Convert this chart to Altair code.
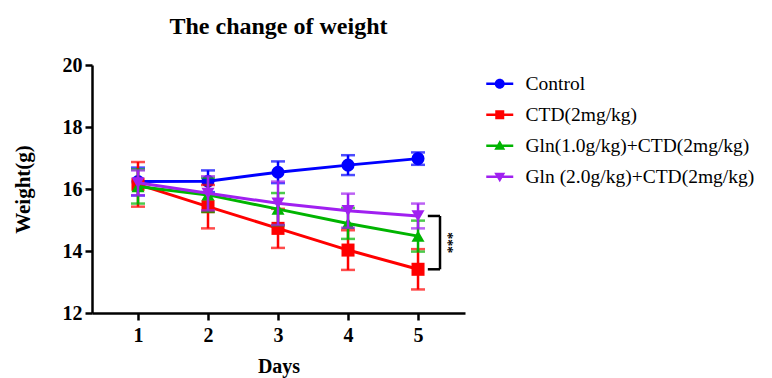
import altair as alt
import pandas as pd

days = [1, 2, 3, 4, 5]
groups = ["Control", "CTD(2mg/kg)", "Gln(1.0g/kg)+CTD(2mg/kg)", "Gln (2.0g/kg)+CTD(2mg/kg)"]
colors = ["#0000ff", "#ff0000", "#00b400", "#a020f0"]
shapes = ["circle", "square", "triangle-up", "triangle-down"]

control_mean = [16.24, 16.25, 16.54, 16.77, 16.98]
control_err = [0.45, 0.35, 0.35, 0.32, 0.2]
ctd_mean = [16.15, 15.43, 14.73, 14.03, 13.41]
ctd_err = [0.72, 0.7, 0.63, 0.64, 0.65]
gln1_mean = [16.08, 15.81, 15.35, 14.89, 14.48]
gln1_err = [0.55, 0.55, 0.52, 0.5, 0.5]
gln2_mean = [16.2, 15.86, 15.54, 15.3, 15.13]
gln2_err = [0.4, 0.55, 0.7, 0.55, 0.4]

means = [control_mean, ctd_mean, gln1_mean, gln2_mean]
errs = [control_err, ctd_err, gln1_err, gln2_err]

rows = []
for gi, g in enumerate(groups):
    for d, m, e in zip(days, means[gi], errs[gi]):
        rows.append({"day": d, "group": g, "order": gi, "mean": m, "lo": m - e, "hi": m + e})
df = pd.DataFrame(rows)

FONT = "Liberation Serif"
xscale = alt.Scale(domain=[0.343, 5.671], nice=False, zero=False)
yscale = alt.Scale(domain=[12, 20], nice=False, zero=False)

xax = alt.Axis(values=days, format="d", title="Days", labelFontSize=20, labelFontWeight="bold", labelFont=FONT,
               titleFont=FONT, titleFontSize=20, titleFontWeight="bold", titlePadding=11,
               domainColor="black", domainWidth=2.5, tickColor="black", tickWidth=2.5, tickSize=7,
               labelPadding=5, grid=False, labelColor="black", titleColor="black")
yax = alt.Axis(values=[12, 14, 16, 18, 20], title="Weight(g)", labelFontSize=20, labelFontWeight="bold",
               labelFont=FONT, titleFont=FONT, titleFontSize=21, titleFontWeight="bold", titlePadding=29,
               domainColor="black", domainWidth=2.5, tickColor="black", tickWidth=2.5, tickSize=7,
               labelPadding=3, grid=False, labelColor="black", titleColor="black")

# legend symbols: a short line (thin filled bar) with the group's marker on it
legend_paths = [
    "M-2.7,-0.25H2.7V0.25H-2.7ZM1,0A1,1,0,1,1,-1,0A1,1,0,1,1,1,0Z",
    "M-2.7,-0.25H2.7V0.25H-2.7ZM-0.9,-0.9H0.9V0.9H-0.9Z",
    "M-2.7,-0.25H2.7V0.25H-2.7ZM0,-1.1L1.1,0.8L-1.1,0.8Z",
    "M-2.7,-0.25H2.7V0.25H-2.7ZM0,1.1L-1.1,-0.8L1.1,-0.8Z",
]

base = alt.Chart(df)

layers = []
for gi, g in enumerate(groups):
    sub = base.transform_filter(alt.datum.group == g)
    col = colors[gi]
    layers.append(sub.mark_rule(color=col, strokeWidth=2.5).encode(
        x=alt.X("day:Q", scale=xscale, axis=xax), y=alt.Y("lo:Q", scale=yscale, axis=yax), y2="hi:Q"))
    layers.append(sub.mark_tick(color=col, thickness=2.5, size=14, orient="horizontal").encode(
        x="day:Q", y="lo:Q"))
    layers.append(sub.mark_tick(color=col, thickness=2.5, size=14, orient="horizontal").encode(
        x="day:Q", y="hi:Q"))
    layers.append(sub.mark_line(color=col, strokeWidth=3).encode(x="day:Q", y="mean:Q"))
    layers.append(sub.mark_point(filled=True, size=170, opacity=1, shape=shapes[gi], color=col).encode(
        x="day:Q", y="mean:Q"))

# legend-only layer (no rows drawn; entries come from the explicit scale domains)
legend = alt.Legend(
    title=None, orient="none", legendX=394, legendY=9,
    labelFont=FONT, labelFontSize=19.5, labelColor="black",
    rowPadding=10, symbolSize=100, symbolOffset=4, labelOffset=16, labelLimit=400,
)
layers.append(base.transform_filter("false").mark_point(filled=True, size=100, opacity=1).encode(
    color=alt.Color("group:N", scale=alt.Scale(domain=groups, range=colors), legend=legend),
    shape=alt.Shape("group:N", scale=alt.Scale(domain=groups, range=legend_paths), legend=legend)))

# significance bracket between CTD and Gln(2.0) at day 5
br_top = gln2_mean[4]
br_bot = ctd_mean[4]
bx = 5.314
bx_in = 5.14
bdf = pd.DataFrame({"x": [bx], "xin": [bx_in], "top": [br_top], "bot": [br_bot],
                    "mid": [(br_top + br_bot) / 2], "tx": [5.414], "lab": ["***"]})
bchart = alt.Chart(bdf)
layers.append(bchart.mark_rule(color="black", strokeWidth=2.5).encode(x="x:Q", y="top:Q", y2="bot:Q"))
layers.append(bchart.mark_rule(color="black", strokeWidth=2.5).encode(x="xin:Q", x2="x:Q", y="top:Q"))
layers.append(bchart.mark_rule(color="black", strokeWidth=2.5).encode(x="xin:Q", x2="x:Q", y="bot:Q"))
layers.append(bchart.mark_text(angle=90, font=FONT, fontSize=14, fontWeight="bold", color="black").encode(
    x="tx:Q", y="mid:Q", text="lab:N"))

chart = alt.layer(*layers).properties(
    width=373, height=248,
    title=alt.TitleParams("The change of weight", font=FONT, fontSize=24, fontWeight="bold",
                          anchor="middle", frame="group", offset=16, color="black"),
    padding={"left": 84, "top": 57, "right": 299, "bottom": 65},
    autosize=alt.AutoSizeParams(type="none"),
).configure_view(stroke=None)

chart.save("out.html", embed_options={"renderer": "svg", "actions": False})
